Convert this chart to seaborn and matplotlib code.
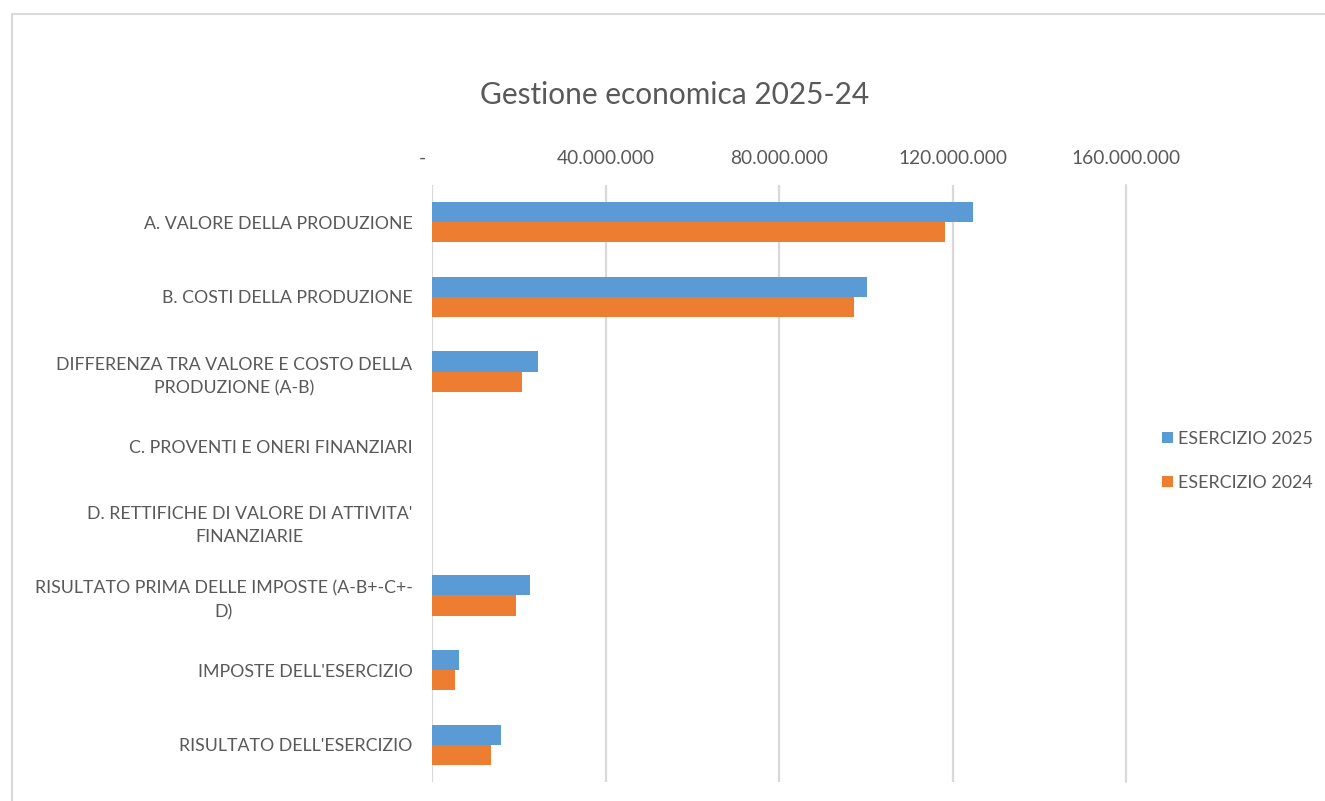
import numpy as np
import pandas as pd
import matplotlib
matplotlib.use("Agg")
import matplotlib.pyplot as plt
import matplotlib.ticker as mticker
from matplotlib.patches import Rectangle
import seaborn as sns

# Voci del conto economico (etichette asse y)
categories = [
    "A. VALORE DELLA PRODUZIONE",
    "B. COSTI DELLA PRODUZIONE",
    "DIFFERENZA TRA VALORE E COSTO DELLA\nPRODUZIONE (A-B)",
    "C. PROVENTI E ONERI FINANZIARI",
    "D. RETTIFICHE DI VALORE DI ATTIVITA'\nFINANZIARIE",
    "RISULTATO PRIMA DELLE IMPOSTE (A-B+-C+-\nD)",
    "IMPOSTE DELL'ESERCIZIO",
    "RISULTATO DELL'ESERCIZIO",
]
series_names = ["ESERCIZIO 2025", "ESERCIZIO 2024"]
values_2025 = [124.7e6, 100.2e6, 24.5e6, 0.0, 0.0, 22.5e6, 6.3e6, 16.0e6]
values_2024 = [118.2e6, 97.2e6, 20.8e6, 0.0, 0.0, 19.4e6, 5.3e6, 13.7e6]
x_ticks = [0, 40e6, 80e6, 120e6, 160e6]
colors = ["#5B9BD5", "#ED7D31"]

df = pd.DataFrame({
    "voce": categories * 2,
    "esercizio": [series_names[0]] * len(categories) + [series_names[1]] * len(categories),
    "valore": values_2025 + values_2024,
})

sns.set_style("white")
plt.rcParams["font.family"] = ["Lato", "DejaVu Sans"]
text_color = "#595959"

fig = plt.figure(figsize=(13.25, 8.01), dpi=100)
ax = fig.add_axes([432 / 1325, 1 - 782 / 801, (1126 - 432) / 1325, (782 - 185) / 801])

sns.barplot(data=df, y="voce", x="valore", hue="esercizio", hue_order=series_names,
            order=categories, palette=colors, orient="h", width=0.54, ax=ax,
            saturation=1, edgecolor="none")

ax.set_xlim(0, 160e6)
ax.set_ylim(len(categories) - 0.5, -0.5)
ax.xaxis.tick_top()
ax.set_xticks(x_ticks)
ax.xaxis.set_major_formatter(mticker.FuncFormatter(
    lambda v, p: "-    " if v == 0 else f"{v:,.0f}".replace(",", ".")))
ax.grid(axis="x", color="#d9d9d9", linewidth=1.6)
ax.set_axisbelow(True)
ax.get_xgridlines()[-1].set_clip_on(False)
for s in ax.spines.values():
    s.set_visible(False)
ax.tick_params(axis="x", length=0, pad=13, labelsize=13.8, labelcolor=text_color)
ax.tick_params(axis="y", length=0, pad=14, labelsize=12.8, labelcolor=text_color)
for lab in ax.get_yticklabels():
    lab.set_multialignment("center")
    lab.set_linespacing(1.55)
ax.set_xlabel("")
ax.set_ylabel("")

handles, labels = ax.get_legend_handles_labels()
ax.legend(handles, labels, loc="center left", bbox_to_anchor=(1146 / 1325, 1 - 461 / 801),
          bbox_transform=fig.transFigure, frameon=False, fontsize=12.9,
          labelcolor=text_color, handlelength=0.6, handleheight=0.6,
          handletextpad=0.3, labelspacing=1.55)

fig.text(675 / 1325, 1 - 95 / 801, "Gestione economica 2025-24", ha="center", va="center",
         fontsize=21.5, color=text_color)

# cornice grigia del grafico
fig.patches.append(Rectangle((12 / 1325, -0.1), 1.2, 1 - 14 / 801 + 0.1,
                             transform=fig.transFigure, fill=False,
                             edgecolor="#d9d9d9", linewidth=1.5))

fig.savefig("out.png", dpi=100, facecolor="white")
